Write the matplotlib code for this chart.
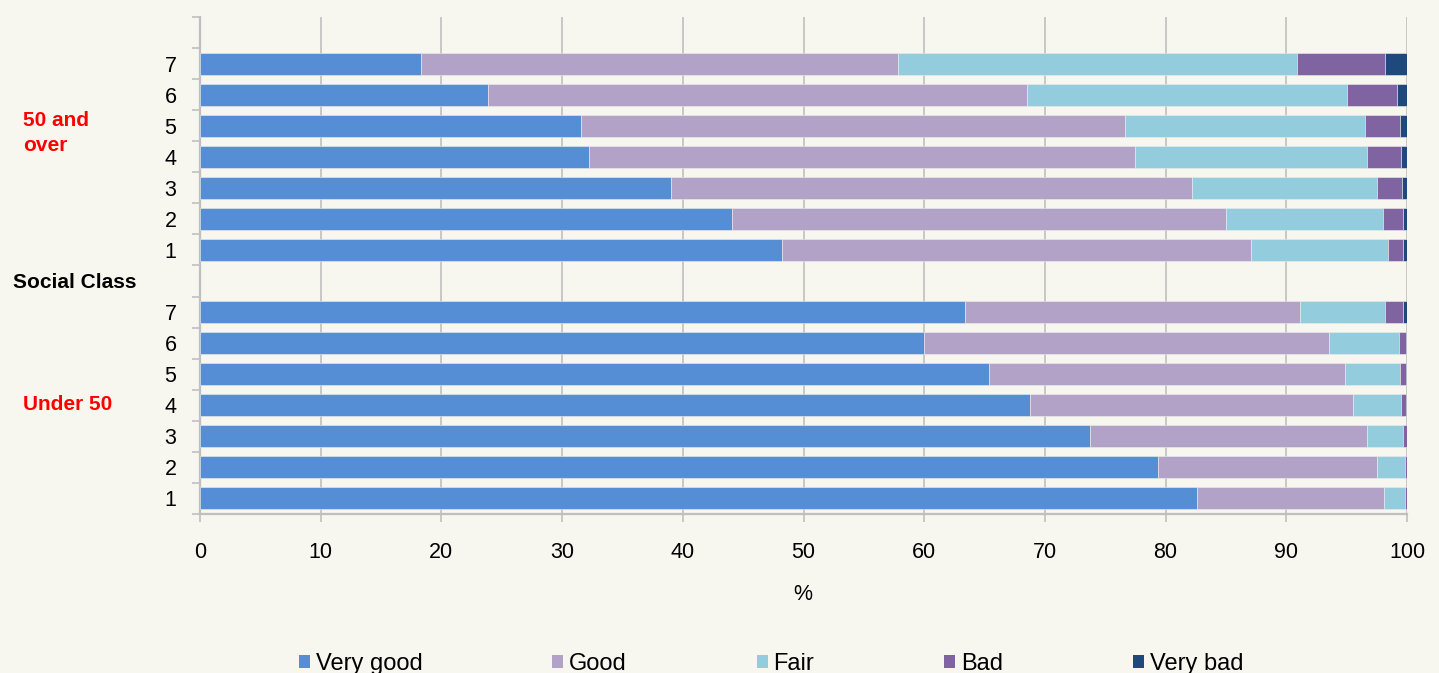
import numpy as np
import matplotlib
matplotlib.use('Agg')
import matplotlib.pyplot as plt
from matplotlib.patches import Patch
from matplotlib.ticker import MultipleLocator

plt.rcParams['font.family'] = ['Liberation Sans', 'DejaVu Sans']

# ---- Data (percent of respondents) ----
social_class = ['1', '2', '3', '4', '5', '6', '7']
categories = ['Very good', 'Good', 'Fair', 'Bad', 'Very bad']

# Under 50, social class 1..7
under50_very_good = [82.6, 79.4, 73.7, 68.8, 65.4, 60.0, 63.4]
under50_good = [15.5, 18.1, 23.0, 26.7, 29.5, 33.5, 27.7]
under50_fair = [1.7, 2.3, 3.0, 4.0, 4.5, 5.8, 7.1]
under50_bad = [0.2, 0.2, 0.3, 0.4, 0.5, 0.6, 1.5]
under50_very_bad = [0.0, 0.0, 0.0, 0.1, 0.1, 0.1, 0.3]

# 50 and over, social class 1..7
over50_very_good = [48.2, 44.1, 39.0, 32.2, 31.6, 23.9, 18.3]
over50_good = [38.9, 40.9, 43.2, 45.3, 45.0, 44.6, 39.5]
over50_fair = [11.3, 13.0, 15.3, 19.2, 19.9, 26.5, 33.1]
over50_bad = [1.3, 1.7, 2.1, 2.8, 2.9, 4.2, 7.3]
over50_very_bad = [0.3, 0.3, 0.4, 0.5, 0.6, 0.8, 1.8]

colors = ['#558ED5', '#B3A2C7', '#93CDDD', '#8064A2', '#1F497D']
bg_color = '#F7F7F0'
grid_color = '#BFBFBF'

# ---- Layout: lower group at 0..6, gap at 7, upper group 8..14, empty slot 15 ----
under_pos = np.arange(0, 7)
over_pos = np.arange(8, 15)
y_pos = np.concatenate([under_pos, over_pos])

series = [
    under50_very_good + over50_very_good,
    under50_good + over50_good,
    under50_fair + over50_fair,
    under50_bad + over50_bad,
    under50_very_bad + over50_very_bad,
]

W, H = 1439, 673
fig = plt.figure(figsize=(W / 100, H / 100), dpi=100, facecolor=bg_color)
ax = fig.add_axes([200 / W, 1 - 514 / H, (1407 - 200) / W, (514 - 17) / H])
ax.set_facecolor(bg_color)

left = np.zeros(len(y_pos))
for vals, color, label in zip(series, colors, categories):
    vals = np.array(vals)
    ax.barh(y_pos, vals, left=left, height=0.71, color=color, label=label,
            edgecolor='#EDEDED', linewidth=0.4, zorder=3)
    left += vals

ax.set_xlim(0, 100)
ax.set_ylim(-0.5, 15.5)
ax.xaxis.set_major_locator(MultipleLocator(10))
ax.grid(axis='x', color=grid_color, linewidth=1.2, zorder=0)
ax.set_axisbelow(True)

ax.set_yticks(y_pos)
ax.set_yticklabels(social_class + social_class)
ax.set_yticks(np.arange(-0.5, 16, 1), minor=True)
ax.tick_params(axis='y', which='major', length=0, pad=17, labelsize=15.5)
ax.tick_params(axis='y', which='minor', length=6, width=1.2, color=grid_color)
ax.tick_params(axis='x', which='major', length=6, width=1.2, color=grid_color,
               pad=14.5, labelsize=15.5)

for side in ['top', 'right']:
    ax.spines[side].set_visible(False)
for side in ['left', 'bottom']:
    ax.spines[side].set_color(grid_color)
    ax.spines[side].set_linewidth(1.6)

# axis title and group labels
fig.text(803 / W, 1 - 594 / H, '%', ha='center', va='center', fontsize=15.5)
fig.text(23 / W, 1 - 133 / H, '50 and\nover', ha='left', va='center', fontsize=15,
         fontweight='bold', color='#FF0000', linespacing=1.4)
fig.text(23 / W, 1 - 404 / H, 'Under 50', ha='left', va='center', fontsize=15,
         fontweight='bold', color='#FF0000')
fig.text(13 / W, 1 - 282 / H, 'Social Class', ha='left', va='center', fontsize=15,
         fontweight='bold', color='black')

handles = [Patch(facecolor=c, edgecolor='none', label=l) for c, l in zip(colors, categories)]
fig.legend(handles=handles, loc='center', bbox_to_anchor=(771 / W, 1 - 664 / H),
           ncol=5, frameon=False, fontsize=17, handlelength=0.46, handleheight=0.5,
           handletextpad=0.25, columnspacing=5.5, borderpad=0)

fig.savefig('out.png', dpi=100, facecolor=bg_color)
